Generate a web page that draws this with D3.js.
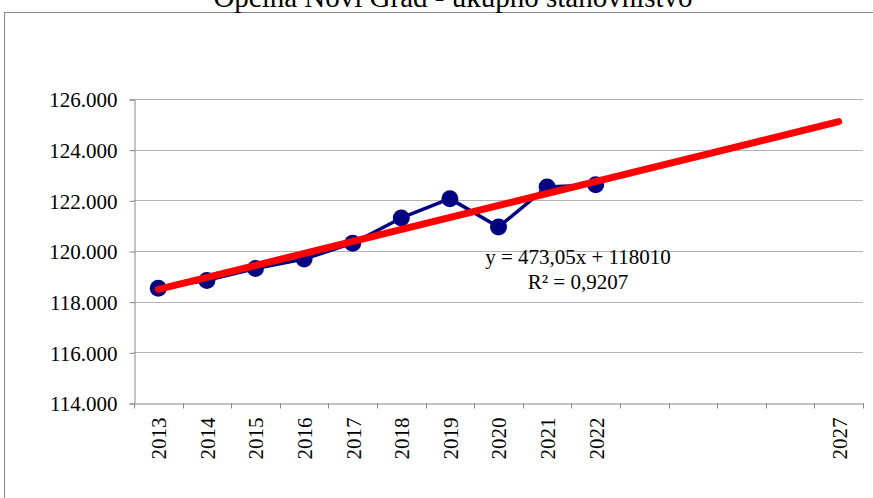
<!DOCTYPE html>
<html>
<head>
<meta charset="utf-8">
<script src="https://cdn.jsdelivr.net/npm/d3@7"></script>
<style>
  body { margin: 0; background: #fff; }
</style>
</head>
<body>
<div id="chart"></div>
<script>
// categories on the x axis (the forecast years 2023-2026 have no label)
const years = ["2013", "2014", "2015", "2016", "2017", "2018", "2019", "2020",
  "2021", "2022", "2023", "2024", "2025", "2026", "2027"];
const yearLabels = ["2013", "2014", "2015", "2016", "2017", "2018", "2019", "2020",
  "2021", "2022", "", "", "", "", "2027"];

// ukupno stanovništvo 2013-2022
const populationYears = ["2013", "2014", "2015", "2016", "2017", "2018", "2019", "2020", "2021", "2022"];
const population = [118532, 118840, 119308, 119680, 120308, 121303, 122067, 120948, 122530, 122618];

// linear trend shown in the chart: y = 473,05x + 118010
const trendSlope = 473.05;
const trendIntercept = 118010;
const trendYears = ["2013", "2027"];

const yTicks = [114000, 116000, 118000, 120000, 122000, 124000, 126000];

const FONT = '"Liberation Serif", "Times New Roman", serif';

const config = {
  width: 873,
  height: 498,
  plot: { left: 134, right: 863, top: 99, bottom: 403 },
};

const svg = d3
  .select("#chart")
  .append("svg")
  .attr("width", config.width)
  .attr("height", config.height)
  .style("font-family", FONT);

// outer chart frame
svg
  .append("rect")
  .attr("x", 4.5)
  .attr("y", 12.5)
  .attr("width", 900)
  .attr("height", 520)
  .attr("fill", "#fff")
  .attr("stroke", "#8a8a8a")
  .attr("stroke-width", 1);

// title (partly cut by the top edge, as in the original)
svg
  .append("text")
  .attr("x", 453)
  .attr("y", 7)
  .attr("text-anchor", "middle")
  .style("font-family", FONT)
  .style("font-size", "29px")
  .text("Općina Novi Grad - ukupno stanovništvo");

const xScale = d3
  .scaleBand()
  .domain(years)
  .range([config.plot.left, config.plot.right])
  .padding(0);

const yScale = d3
  .scaleLinear()
  .domain([114000, 126000])
  .range([config.plot.bottom, config.plot.top]);

const locale = d3.formatLocale({ decimal: ",", thousands: ".", grouping: [3], currency: ["", ""] });
const fmt = locale.format(",");

// horizontal gridlines
svg
  .append("g")
  .selectAll("line")
  .data(yTicks.slice(1))
  .join("line")
  .attr("x1", config.plot.left)
  .attr("x2", config.plot.right)
  .attr("y1", (d) => Math.round(yScale(d)) + 0.5)
  .attr("y2", (d) => Math.round(yScale(d)) + 0.5)
  .attr("stroke", "#b3b3b3")
  .attr("stroke-width", 1);

// y axis
const yAxis = svg
  .append("g")
  .attr("transform", `translate(${config.plot.left + 0.5},0.5)`)
  .call(d3.axisLeft(yScale).tickValues(yTicks).tickFormat(fmt).tickSize(5).tickPadding(12));
yAxis.attr("font-family", null).attr("font-size", null);
yAxis.selectAll("line, path").attr("stroke", "#868686");
yAxis
  .selectAll("text")
  .style("font-family", FONT)
  .style("font-size", "21px")
  .attr("fill", "#000")
  .attr("dy", "0.35em");

// x axis
const xAxis = svg
  .append("g")
  .attr("transform", `translate(0.5,${config.plot.bottom + 0.5})`)
  .call(d3.axisBottom(xScale).tickSize(0).tickFormat((d, i) => yearLabels[i]));
xAxis.attr("font-family", null).attr("font-size", null);
xAxis.select("path").attr("stroke", "#868686");
xAxis
  .selectAll("text")
  .style("font-family", FONT)
  .style("font-size", "21px")
  .attr("fill", "#000")
  .attr("text-anchor", "end")
  .attr("transform", "rotate(-90)")
  .attr("x", -14)
  .attr("y", 0)
  .attr("dy", "0.35em");

// tick marks between categories
const edges = years.map((d) => xScale(d)).concat([config.plot.right]);
xAxis
  .append("g")
  .selectAll("line")
  .data(edges)
  .join("line")
  .attr("x1", (d) => Math.round(d))
  .attr("x2", (d) => Math.round(d))
  .attr("y1", 0)
  .attr("y2", 5)
  .attr("stroke", "#868686");

const cx = (d) => xScale(d) + xScale.bandwidth() / 2;

// data series
const points = populationYears.map((d, i) => ({ year: d, value: population[i] }));

svg
  .append("path")
  .datum(points)
  .attr("fill", "none")
  .attr("stroke", "#000080")
  .attr("stroke-width", 3.5)
  .attr("stroke-linejoin", "round")
  .attr("d", d3.line().x((d) => cx(d.year)).y((d) => yScale(d.value)));

svg
  .append("g")
  .selectAll("circle")
  .data(points)
  .join("circle")
  .attr("cx", (d) => cx(d.year))
  .attr("cy", (d) => yScale(d.value))
  .attr("r", 8.5)
  .attr("fill", "#000080");

// trend line
const trend = trendYears.map((d) => ({
  year: d,
  value: trendSlope * (years.indexOf(d) + 1) + trendIntercept,
}));

svg
  .append("path")
  .datum(trend)
  .attr("fill", "none")
  .attr("stroke", "#ff0000")
  .attr("stroke-width", 7)
  .attr("stroke-linecap", "round")
  .attr("d", d3.line().x((d) => cx(d.year)).y((d) => yScale(d.value)));

// trend equation
const eq = svg.append("g").attr("transform", "translate(578,0)");
eq.append("text")
  .attr("y", 264)
  .attr("text-anchor", "middle")
  .style("font-family", FONT)
  .style("font-size", "21px")
  .text("y = 473,05x + 118010");
eq.append("text")
  .attr("y", 289)
  .attr("text-anchor", "middle")
  .style("font-family", FONT)
  .style("font-size", "21px")
  .text("R² = 0,9207");
</script>
</body>
</html>
